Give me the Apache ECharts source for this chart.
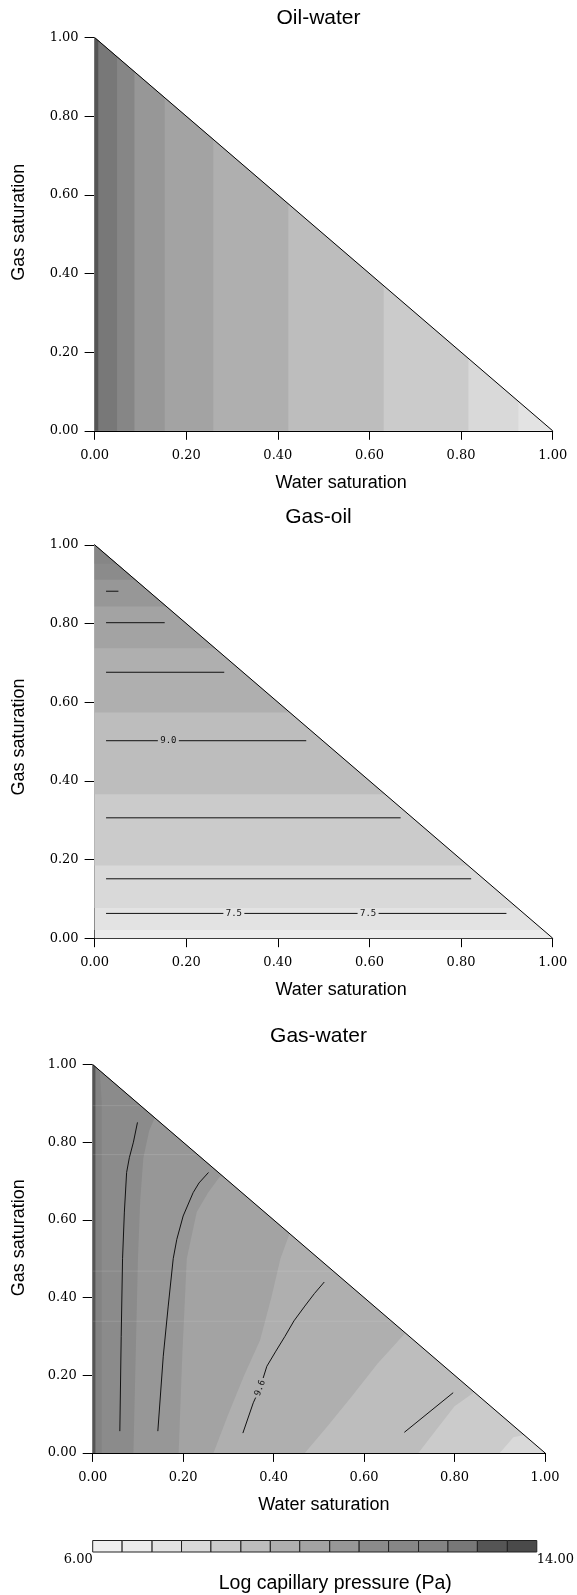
<!DOCTYPE html>
<html>
<head>
<meta charset="utf-8">
<script src="https://cdn.jsdelivr.net/npm/echarts@6/dist/echarts.min.js"></script>
<style>
html,body{margin:0;padding:0;background:#fff;}
#chart{width:577px;height:1595px;}
</style>
</head>
<body>
<div id="chart"></div>
<script>
// ---------- data ----------
const panelTitles = ['Oil-water', 'Gas-oil', 'Gas-water'];
const xAxisTitle = 'Water saturation';
const yAxisTitle = 'Gas saturation';
const colorbarTitle = 'Log capillary pressure (Pa)';

// colour scale (log capillary pressure, Pa): 15 levels from 6 to 14
const levelEdges = [6.00, 6.53, 7.07, 7.60, 8.13, 8.67, 9.20, 9.73, 10.27, 10.80, 11.33, 11.87, 12.40, 12.93, 13.47, 14.00];
const levelColors = ['#f0f0f0', '#ebebeb', '#e3e3e3', '#d9d9d9', '#cbcbcb', '#bdbdbd', '#afafaf', '#a3a3a3',
                     '#979797', '#8b8b8b', '#868686', '#838383', '#787878', '#555555', '#4a4a4a'];

// triangle of valid saturations (Sw + Sg <= 1)
const triangle = [[0, 0], [1, 0], [0, 1]];

// Oil-water: bands bounded by water saturation (vertical), level index left of each bound
const owBaseLevel = 2;
const owBounds = [0.925, 0.816, 0.631, 0.423, 0.259, 0.153, 0.087, 0.049, 0.008];
const owLevels = [3, 4, 5, 6, 7, 8, 10, 12, 13];

// Gas-oil: bands bounded by gas saturation (horizontal), level index above each bound
const goBaseLevel = 1;
const goBounds = [0.021, 0.077, 0.185, 0.366, 0.574, 0.737, 0.843, 0.911, 0.952];
const goLevels = [2, 3, 4, 5, 6, 7, 8, 9, 10];
// contour lines [Sw, Sg] and labels [line index, point index, text]
const goContourLines = [
  [[0.025, 0.063], [0.304, 0.063], [0.597, 0.063], [0.899, 0.063]],
  [[0.025, 0.151], [0.822, 0.151]],
  [[0.025, 0.306], [0.668, 0.306]],
  [[0.025, 0.502], [0.161, 0.502], [0.462, 0.502]],
  [[0.025, 0.676], [0.283, 0.676]],
  [[0.025, 0.802], [0.153, 0.802]],
  [[0.025, 0.882], [0.052, 0.882]]
];
const goContourLabels = [[0, 1, '7.5'], [0, 2, '7.5'], [3, 1, '9.0']];

// Gas-water: curved band boundaries (bottom -> diagonal), level index on the left side
const gwBaseLevel = 3;
const gwBounds = [
  [[0.900, 0.000], [0.930, 0.040], [0.970, 0.050]],
  [[0.720, 0.000], [0.760, 0.060], [0.800, 0.120], [0.860, 0.170]],
  [[0.469, 0.000], [0.520, 0.070], [0.573, 0.146], [0.630, 0.230], [0.700, 0.320]],
  [[0.267, 0.000], [0.300, 0.100], [0.335, 0.200], [0.370, 0.290], [0.395, 0.400], [0.415, 0.500], [0.440, 0.580]],
  [[0.190, 0.000], [0.198, 0.250], [0.208, 0.500], [0.230, 0.620], [0.255, 0.670], [0.280, 0.710], [0.300, 0.720]],
  [[0.090, 0.000], [0.095, 0.250], [0.100, 0.500], [0.105, 0.650], [0.112, 0.760], [0.125, 0.830], [0.140, 0.870]],
  [[0.020, 0.000], [0.020, 0.900], [0.015, 1.000]],
  [[0.006, 0.000], [0.006, 1.000]]
];
const gwLevels = [4, 5, 6, 7, 8, 9, 11, 13];
const gwContourLines = [
  [[0.099, 0.851], [0.090, 0.800], [0.081, 0.760], [0.075, 0.722], [0.070, 0.620], [0.066, 0.500], [0.063, 0.300], [0.060, 0.056]],
  [[0.256, 0.722], [0.235, 0.695], [0.222, 0.670], [0.200, 0.610], [0.186, 0.550], [0.178, 0.500], [0.167, 0.378], [0.156, 0.249], [0.144, 0.056]],
  [[0.512, 0.440], [0.490, 0.410], [0.469, 0.378], [0.445, 0.340], [0.425, 0.300], [0.405, 0.262], [0.385, 0.223], [0.370, 0.167], [0.355, 0.129], [0.332, 0.051]],
  [[0.797, 0.155], [0.689, 0.053]]
];
const gwContourLabels = [[2, 7, '9.6']];
// faint light seams across the Gas-water fill (gas saturation)
const gwSeams = [0.894, 0.768, 0.468, 0.339];

// ---------- geometry helpers ----------
function clipTri(poly) {               // keep the part with Sw + Sg <= 1
  const out = [];
  for (let i = 0; i < poly.length; i++) {
    const a = poly[i], b = poly[(i + 1) % poly.length];
    const fa = a[0] + a[1] - 1, fb = b[0] + b[1] - 1;
    if (fa <= 1e-9) out.push(a);
    if ((fa < 0 && fb > 0) || (fa > 0 && fb < 0)) {
      const t = fa / (fa - fb);
      out.push([a[0] + t * (b[0] - a[0]), a[1] + t * (b[1] - a[1])]);
    }
  }
  return out;
}
function vertPoly(b) { return clipTri([[0, 0], [b, 0], [b, 1], [0, 1]]); }
function horzPoly(b) { return clipTri([[0, b], [1, b], [1, 1], [0, 1]]); }
function curvePoly(pts) { return clipTri([[0, 0]].concat(pts, [[0, 1]])); }

function layerList(base, polys, levels) {
  const L = [{ poly: clipTri(triangle), level: base }];
  polys.forEach((p, i) => L.push({ poly: p, level: levels[i] }));
  return L;
}
const panelLayers = [
  layerList(owBaseLevel, owBounds.map(vertPoly), owLevels),
  layerList(goBaseLevel, goBounds.map(horzPoly), goLevels),
  layerList(gwBaseLevel, gwBounds.map(curvePoly), gwLevels)
];

function trimStart(run, r) {
  run = run.slice();
  while (r > 0 && run.length >= 2) {
    const a = run[0], b = run[1];
    const d = Math.hypot(b[0] - a[0], b[1] - a[1]);
    if (d <= r) { r -= d; run.shift(); }
    else { run[0] = [a[0] + (b[0] - a[0]) * r / d, a[1] + (b[1] - a[1]) * r / d]; r = 0; }
  }
  return run;
}
function trimEnd(run, r) { return trimStart(run.slice().reverse(), r).reverse(); }

const GAP = 10.5;

// ---------- series builders ----------
function bandSeries(p) {
  const layers = panelLayers[p];
  return {
    type: 'custom', xAxisIndex: p, yAxisIndex: p, silent: true, z: 1, animation: false,
    data: layers.map(() => [0, 0]),
    renderItem(params, api) {
      const L = layers[params.dataIndex];
      return {
        type: 'polygon',
        shape: { points: L.poly.map(pt => api.coord(pt)) },
        style: { fill: levelColors[L.level] }
      };
    }
  };
}
function seamSeries(p, ys) {
  return {
    type: 'custom', xAxisIndex: p, yAxisIndex: p, silent: true, z: 2, animation: false,
    data: ys.map(y => [0, y]),
    renderItem(params, api) {
      const y = api.value(1);
      const a = api.coord([0, y]), b = api.coord([1 - y, y]);
      return { type: 'line', shape: { x1: a[0], y1: a[1], x2: b[0], y2: b[1] },
        style: { stroke: 'rgba(255,255,255,0.12)', lineWidth: 1 } };
    }
  };
}
function diagonalSeries(p) {
  return {
    type: 'line', xAxisIndex: p, yAxisIndex: p, silent: true, z: 3, animation: false,
    data: [triangle[2], triangle[1]], symbol: 'none',
    lineStyle: { color: '#000', width: 1 }
  };
}
function contourSeries(p, lines, labels) {
  return {
    type: 'custom', xAxisIndex: p, yAxisIndex: p, silent: true, z: 4, animation: false,
    data: lines.map(() => [0, 0]),
    renderItem(params, api) {
      const li = params.dataIndex;
      const px = lines[li].map(pt => api.coord(pt));
      const labs = labels.filter(l => l[0] === li);
      const cuts = labs.map(l => l[1]).sort((a, b) => a - b);
      const idxs = [0].concat(cuts, [px.length - 1]);
      const children = [];
      for (let k = 0; k < idxs.length - 1; k++) {
        let run = px.slice(idxs[k], idxs[k + 1] + 1);
        if (k > 0) run = trimStart(run, GAP);
        if (k < idxs.length - 2) run = trimEnd(run, GAP);
        if (run.length >= 2) {
          children.push({ type: 'polyline', shape: { points: run },
            style: { stroke: '#111', lineWidth: 1, fill: null } });
        }
      }
      labs.forEach(l => {
        const i = l[1], c = px[i], a = px[i - 1], b = px[i + 1];
        let dx = b[0] - a[0], dy = b[1] - a[1];
        if (dx < 0) { dx = -dx; dy = -dy; }
        children.push({ type: 'text', x: c[0], y: c[1], rotation: Math.atan2(-dy, dx),
          style: { text: l[2], fill: '#111', font: '9px "DejaVu Sans Mono"', align: 'center', verticalAlign: 'middle' } });
      });
      return { type: 'group', children };
    }
  };
}

// ---------- layout ----------
const grids = [
  { left: 94.6, top: 37.5, width: 458.1, height: 393.3 },
  { left: 94.6, top: 544.8, width: 458.1, height: 393.4 },
  { left: 92.7, top: 1064.5, width: 452.3, height: 388.4 },
  { left: 92.7, top: 1540.5, width: 452.3, height: 13.5 }
];
const xNamePad = [35, 35, 10];
const yNamePad = [24, 9, 42];
const yNameGap = [67, 67, 65];
const titleY = [18.5, 517.5, 1036.5];

const tickFont = { fontFamily: 'DejaVu Serif', fontSize: 13, color: '#000' };
const nameFont = { fontFamily: 'Liberation Sans', fontSize: 18, color: '#000' };

const xAxes = [], yAxes = [], series = [];
for (let p = 0; p < 3; p++) {
  xAxes.push({
    gridIndex: p, type: 'value', min: 0, max: 1, interval: 0.2,
    axisLine: { show: true, onZero: false, lineStyle: { color: '#000', width: 1 } },
    axisTick: { show: true, length: 9, lineStyle: { color: '#000' } },
    axisLabel: Object.assign({ formatter: v => v.toFixed(2), margin: 18 }, tickFont),
    splitLine: { show: false },
    name: xAxisTitle, nameLocation: 'middle', nameGap: 43, nameMoveOverlap: false,
    nameTextStyle: Object.assign({ padding: [0, 0, 0, xNamePad[p]] }, nameFont)
  });
  yAxes.push({
    gridIndex: p, type: 'value', min: 0, max: 1, interval: 0.2,
    axisLine: { show: true, onZero: false, lineStyle: { color: '#000', width: 1 } },
    axisTick: { show: true, length: 10, lineStyle: { color: '#000' } },
    axisLabel: Object.assign({ formatter: v => v.toFixed(2), margin: 16 }, tickFont),
    splitLine: { show: false },
    name: yAxisTitle, nameLocation: 'middle', nameGap: yNameGap[p], nameMoveOverlap: false,
    nameTextStyle: Object.assign({ padding: [0, 0, 0, yNamePad[p]] }, nameFont)
  });
  series.push(bandSeries(p), diagonalSeries(p));
}
series.push(seamSeries(2, gwSeams));
series.push(contourSeries(1, goContourLines, goContourLabels));
series.push(contourSeries(2, gwContourLines, gwContourLabels));

// colour bar
xAxes.push({
  gridIndex: 3, type: 'value', min: levelEdges[0], max: levelEdges[levelEdges.length - 1],
  interval: levelEdges[levelEdges.length - 1] - levelEdges[0],
  axisLine: { show: false }, axisTick: { show: false }, splitLine: { show: false },
  axisLabel: Object.assign({ formatter: v => v.toFixed(2), margin: 1,
    alignMinLabel: 'right', alignMaxLabel: 'left' }, tickFont),
  name: colorbarTitle, nameLocation: 'middle', nameGap: 22, nameMoveOverlap: false,
  nameTextStyle: { fontFamily: 'Liberation Sans', fontSize: 19.5, color: '#000', padding: [0, 0, 0, 41] }
});
yAxes.push({ gridIndex: 3, type: 'value', min: 0, max: 1, show: false });
series.push({
  type: 'custom', xAxisIndex: 3, yAxisIndex: 3, silent: true, z: 2, animation: false,
  data: levelColors.map((c, i) => [levelEdges[i], levelEdges[i + 1]]),
  renderItem(params, api) {
    const a = api.coord([api.value(0), 1]);
    const b = api.coord([api.value(1), 0]);
    return { type: 'rect', shape: { x: a[0], y: a[1], width: b[0] - a[0], height: b[1] - a[1] },
      style: { fill: levelColors[params.dataIndex], stroke: '#222', lineWidth: 1 } };
  }
});

const option = {
  animation: false,
  backgroundColor: '#fff',
  grid: grids,
  xAxis: xAxes,
  yAxis: yAxes,
  graphic: panelTitles.map((t, i) => ({
    type: 'text', x: 318.5, y: titleY[i], silent: true,
    style: { text: t, fill: '#000', font: '21px "Liberation Sans"', align: 'center', verticalAlign: 'middle' }
  })),
  series: series
};

const chart = echarts.init(document.getElementById('chart'), null, { renderer: 'canvas' });
chart.setOption(option);
</script>
</body>
</html>
